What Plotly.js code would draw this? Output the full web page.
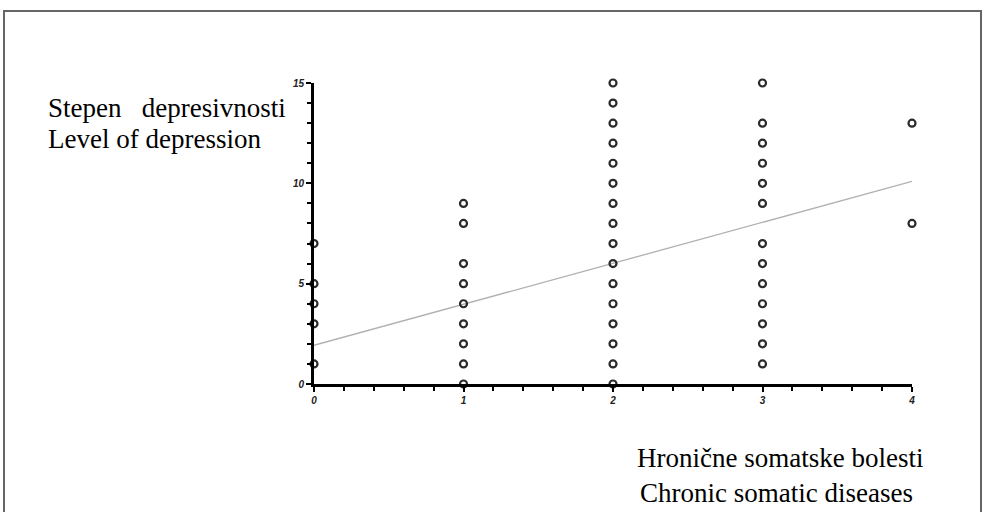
<!DOCTYPE html>
<html>
<head>
<meta charset="utf-8">
<script src="https://cdn.plot.ly/plotly-3.0.1.min.js"></script>
<style>
  html, body { margin: 0; padding: 0; background: #fff; }
  #chart { width: 982px; height: 512px; }
</style>
</head>
<body>
<div id="chart"></div>
<script>
// Data (x = number of chronic somatic diseases, y = level of depression)
const cat0Y = [1, 3, 4, 5, 7];
const cat1Y = [0, 1, 2, 3, 4, 5, 6, 8, 9];
const cat2Y = [0, 1, 2, 3, 4, 5, 6, 7, 8, 9, 10, 11, 12, 13, 14, 15];
const cat3Y = [1, 2, 3, 4, 5, 6, 7, 9, 10, 11, 12, 13, 15];
const cat4Y = [8, 13];
const categories = [0, 1, 2, 3, 4];
const fitX = [0, 4];
const fitY = [1.93, 10.1];
const xTickVals = [0, 1, 2, 3, 4];
const yTickVals = [0, 5, 10, 15];

const groups = [cat0Y, cat1Y, cat2Y, cat3Y, cat4Y];
const px = [], py = [];
groups.forEach((g, i) => g.forEach(v => { px.push(categories[i]); py.push(v); }));

// pixel helpers for placing paper-positioned annotations/shapes
const L = 314, R = 912, T = 83, B = 384;
const fx = p => (p - L) / (R - L);
const fy = p => (B - p) / (B - T);

const serif = '"Liberation Serif", "Times New Roman", serif';

const traces = [
  {
    x: fitX, y: fitY, mode: 'lines', type: 'scatter',
    line: { color: '#b0b0b0', width: 1.3 },
    hoverinfo: 'skip', cliponaxis: false
  },
  {
    x: px, y: py, mode: 'markers', type: 'scatter',
    marker: { symbol: 'circle-open', size: 7, color: '#2a2a2a', line: { width: 2.2, color: '#2a2a2a' } },
    cliponaxis: false
  }
];

const tickFont = { family: 'Arial, sans-serif', size: 10, style: 'italic', weight: 'bold', color: '#222' };

const layout = {
  width: 982, height: 512,
  margin: { l: L, r: 982 - R, t: T, b: 512 - B, pad: 0 },
  paper_bgcolor: '#ffffff', plot_bgcolor: '#ffffff',
  showlegend: false,
  xaxis: {
    range: [0, 4], tickvals: xTickVals, ticktext: xTickVals.map(String),
    showgrid: false, zeroline: false,
    showline: true, linecolor: '#000', linewidth: 3,
    ticks: 'outside', ticklen: 5, tickwidth: 2, tickcolor: '#000',
    minor: { dtick: 0.2, ticks: 'outside', ticklen: 4, tickwidth: 2, tickcolor: '#000', showgrid: false },
    tickfont: tickFont
  },
  yaxis: {
    range: [0, 15], tickvals: yTickVals, ticktext: yTickVals.map(String),
    showgrid: false, zeroline: false,
    showline: true, linecolor: '#000', linewidth: 3,
    ticks: 'outside', ticklen: 5, tickwidth: 2, tickcolor: '#000',
    minor: { dtick: 1, ticks: 'outside', ticklen: 4, tickwidth: 2, tickcolor: '#000', showgrid: false },
    tickfont: tickFont
  },
  shapes: [
    { type: 'rect', xref: 'paper', yref: 'paper',
      x0: fx(4), x1: fx(981), y0: fy(530), y1: fy(11),
      line: { color: '#666', width: 2 }, fillcolor: 'rgba(0,0,0,0)', layer: 'below' }
  ],
  annotations: [
    { text: 'Stepen\u00a0\u00a0\u00a0depresivnosti', xref: 'paper', yref: 'paper',
      x: fx(46), y: fy(108), xanchor: 'left', yanchor: 'middle', showarrow: false,
      font: { family: serif, size: 27, color: '#000' } },
    { text: 'Level of depression', xref: 'paper', yref: 'paper',
      x: fx(46), y: fy(139), xanchor: 'left', yanchor: 'middle', showarrow: false,
      font: { family: serif, size: 27, color: '#000' } },
    { text: 'Hronične somatske bolesti', xref: 'paper', yref: 'paper',
      x: fx(635), y: fy(458), xanchor: 'left', yanchor: 'middle', showarrow: false,
      font: { family: serif, size: 27, color: '#000' } },
    { text: 'Chronic somatic diseases', xref: 'paper', yref: 'paper',
      x: fx(638), y: fy(493), xanchor: 'left', yanchor: 'middle', showarrow: false,
      font: { family: serif, size: 27, color: '#000' } }
  ]
};

Plotly.newPlot('chart', traces, layout, { staticPlot: true, displayModeBar: false });
</script>
</body>
</html>
